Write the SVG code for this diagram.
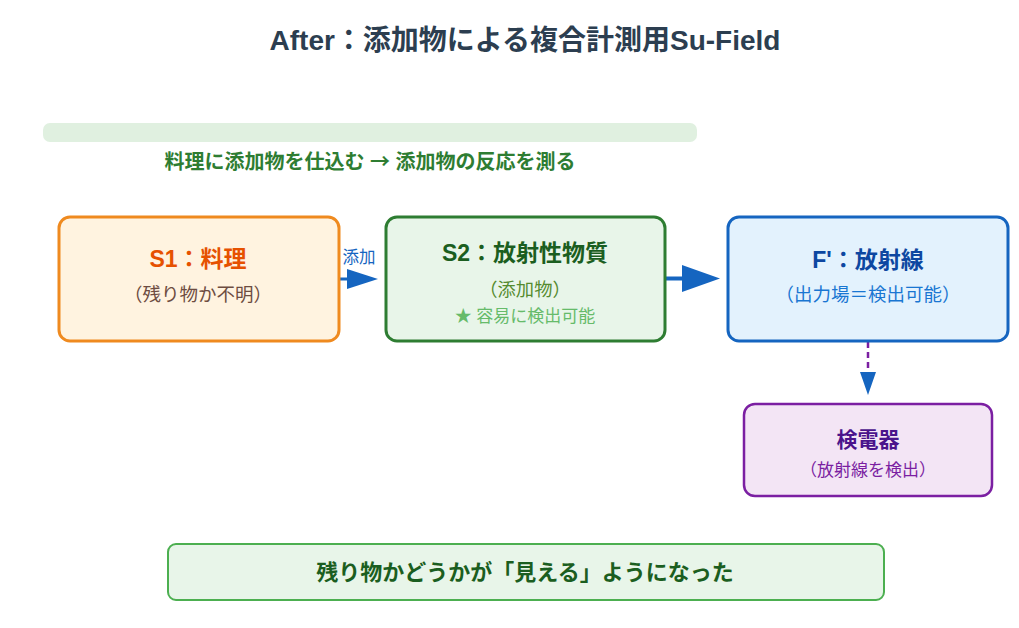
<svg xmlns="http://www.w3.org/2000/svg" width="1019" height="628" viewBox="0 0 1019 628">
<defs>
<style>
text{font-family:"Liberation Sans","Noto Sans CJK JP",sans-serif;text-anchor:middle}
.b{font-weight:bold}
.cjk{font-family:"Noto Sans CJK JP",sans-serif}
</style>
</defs>
<rect width="1019" height="628" fill="#ffffff"/>
<text x="525" y="50" class="b" font-size="28" fill="#2c3e50">After：添加物による複合計測用Su-Field</text>
<rect x="43" y="123" width="654" height="19" rx="7" fill="#e0f0e0"/>
<text x="370" y="169" class="b" font-size="20" fill="#2e7d32">料理に添加物を仕込む <tspan class="cjk">→</tspan> 添加物の反応を測る</text>
<g id="connectors">
<line x1="339" y1="279" x2="350" y2="279" stroke="#1565c0" stroke-width="3"/>
<path d="M347,269 L378,279 L347,289 z" fill="#1565c0"/>
<text x="359" y="263" font-size="16.5" fill="#1565c0">添加</text>
<line x1="665" y1="278.5" x2="684" y2="278.5" stroke="#1565c0" stroke-width="4"/>
<path d="M682,265 L720,278.5 L682,292 z" fill="#1565c0"/>
<line x1="868" y1="342" x2="868" y2="374" stroke="#7b1fa2" stroke-width="2.5" stroke-dasharray="6,4"/>
<path d="M860,372 L868,395 L876,372 z" fill="#1565c0"/>
</g>
<g id="s1">
<rect x="59" y="217" width="280" height="124" rx="11" fill="#fff3e0" stroke="#ef8a1f" stroke-width="3"/>
<text x="198" y="267" class="b" font-size="23" fill="#e65100">S1：料理</text>
<text x="198" y="301" font-size="18.5" fill="#6d4c41">（残り物か不明）</text>
</g>
<g id="s2">
<rect x="386" y="217" width="279" height="124" rx="11" fill="#e8f5e9" stroke="#2e7d32" stroke-width="3"/>
<text x="525" y="261" class="b" font-size="23" fill="#1b5e20">S2：放射性物質</text>
<text x="525" y="296" font-size="18.3" fill="#558b2f">（添加物）</text>
<text x="525" y="322" font-size="17" fill="#66bb6a">★ 容易に検出可能</text>
</g>
<g id="f">
<rect x="728" y="217" width="280" height="124" rx="11" fill="#e3f2fd" stroke="#1565c0" stroke-width="3"/>
<text x="868" y="268" class="b" font-size="23" fill="#0d47a1">F'：放射線</text>
<text x="868" y="301" font-size="18.5" fill="#1976d2">（出力場＝検出可能）</text>
</g>
<g id="detector">
<rect x="744" y="404" width="248" height="92" rx="11" fill="#f3e5f5" stroke="#7b1fa2" stroke-width="2.5"/>
<text x="868" y="447" class="b" font-size="21" fill="#4a148c">検電器</text>
<text x="868" y="476" font-size="17" fill="#7b1fa2">（放射線を検出）</text>
</g>
<g id="result">
<rect x="168" y="544" width="716" height="56" rx="8" fill="#e8f5e9" stroke="#4caf50" stroke-width="2"/>
<text x="525" y="580" class="b" font-size="22" fill="#1b5e20">残り物かどうかが「見える」ようになった</text>
</g>
</svg>
